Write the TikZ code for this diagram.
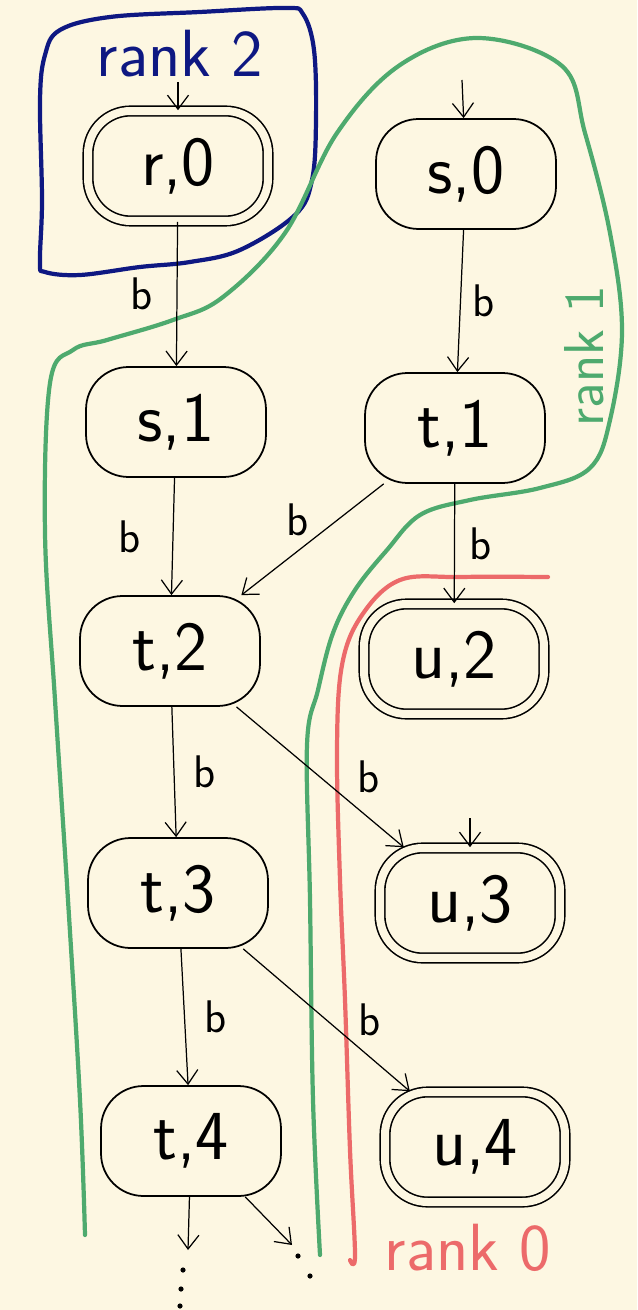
\documentclass[tikz,border=0pt]{standalone}
\usepackage{tikz}
\usetikzlibrary{arrows.meta}

\definecolor{paper}{RGB}{253,247,226}
\definecolor{rktwo}{RGB}{14,24,130}
\definecolor{rkone}{RGB}{78,170,110}
\definecolor{rkzero}{RGB}{236,106,106}

\begin{document}
\begin{tikzpicture}[>={Straight Barb[length=8pt,width=12pt]},x=0.02cm,y=-0.02cm,line width=0.7pt]
\tikzstyle{st}=[rectangle,draw,line width=1pt,rounded corners=0.85cm,minimum width=3.6cm,minimum height=2.2cm,font=\fontsize{40}{48}\selectfont\sffamily]
\tikzstyle{acc}=[st,double=paper,double distance=0.16cm,line width=0.9pt]
\tikzstyle{lbl}=[font=\fontsize{26}{30}\selectfont\sffamily,inner sep=1pt]
\tikzstyle{region}=[line width=2.4pt,line cap=round,line join=round]
\tikzstyle{rk}=[font=\fontsize{38}{44}\selectfont\sffamily]

% Paper
\fill[paper] (0,0) rectangle (637,1310);
\useasboundingbox (0,0) rectangle (637,1310);

% Rank regions
\draw[region,rktwo] plot[smooth cycle,tension=0.6] coordinates {(40,262) (42,200) (40,100) (45,55) (60,30) (110,17) (200,12) (285,8) (303,14) (314,50) (316,120) (312,180) (295,215) (240,250) (190,262) (140,267) (80,275) (45,272)};
\draw[region,rkone] plot[smooth,tension=0.6] coordinates {(85,1235) (80,1100) (68,900) (55,700) (45,533) (50,383) (73,350) (107,340) (173,320) (223,297) (285,233) (337,133) (400,65) (478,38) (562,66) (585,133) (610,233) (622,330) (610,420) (590,468) (540,488) (470,500) (420,515) (387,550) (355,590) (333,633) (318,690) (307,745) (310,900) (313,1100) (320,1255)};
\draw[region,rkzero] plot[smooth,tension=0.6] coordinates {(548,577) (460,577) (400,580) (362,615) (342,665) (337,750) (340,880) (345,1000) (350,1150) (355,1255) (350,1260)};

\node[rk,rktwo] (L2) at (180,54) {rank 2};
\node[rk,rkone,rotate=90,font=\fontsize{32}{38}\selectfont\sffamily] (L1) at (584,356) {rank 1};
\node[rk,rkzero] (L0) at (468,1248) {rank 0};

% States, left column
\node[acc] (R0) at (178,166) {r,0};
\node[st] (S1) at (176,422) {s,1};
\node[st] (T2) at (170,651) {t,2};
\node[st] (T3) at (178,893) {t,3};
\node[st] (T4) at (191,1141) {t,4};

% States, right column
\node[st] (S0) at (466,174) {s,0};
\node[st] (T1) at (455,428) {t,1};
\node[acc] (U2) at (454,659) {u,2};
\node[acc] (U3) at (470,903) {u,3};
\node[acc] (U4) at (475,1147) {u,4};

% Incoming stubs and open ends
\coordinate (R0in) at (178,82);
\coordinate (S0in) at (462,80);
\coordinate (U3in) at (470,818);
\coordinate (D1) at (188,1250);
\coordinate (D2) at (292,1245);

\draw[->] (R0in) -- (R0);
\draw[->] (S0in) -- (S0);
\draw[->] (U3in) -- (U3);

% Transitions
\draw[->] (R0) -- node[lbl,left=0.45cm,pos=0.5] {b} (S1);
\draw[->] (S0) -- node[lbl,right=0.2cm] {b} (T1);
\draw[->] (S1) -- node[lbl,left=0.6cm] {b} (T2);
\draw[->] (T1) -- node[lbl,above left=1pt] {b} (T2);
\draw[->] (T1) -- node[lbl,right=0.25cm] {b} (U2);
\draw[->] (T2) -- node[lbl,right=0.35cm] {b} (T3);
\draw[->] (T2) -- node[lbl,right=0.7cm] {b} (U3);
\draw[->] (T3) -- node[lbl,right=0.35cm] {b} (T4);
\draw[->] (T3) -- node[lbl,right=0.6cm] {b} (U4);
\draw[->] (T4) -- (D1);
\draw[->] (T4) -- (D2);

% Dots below t,4
\foreach \p in {(183,1270),(181,1289),(180,1306),(298,1256),(310,1276)}
  \fill \p circle (2.6);
\end{tikzpicture}
\end{document}
